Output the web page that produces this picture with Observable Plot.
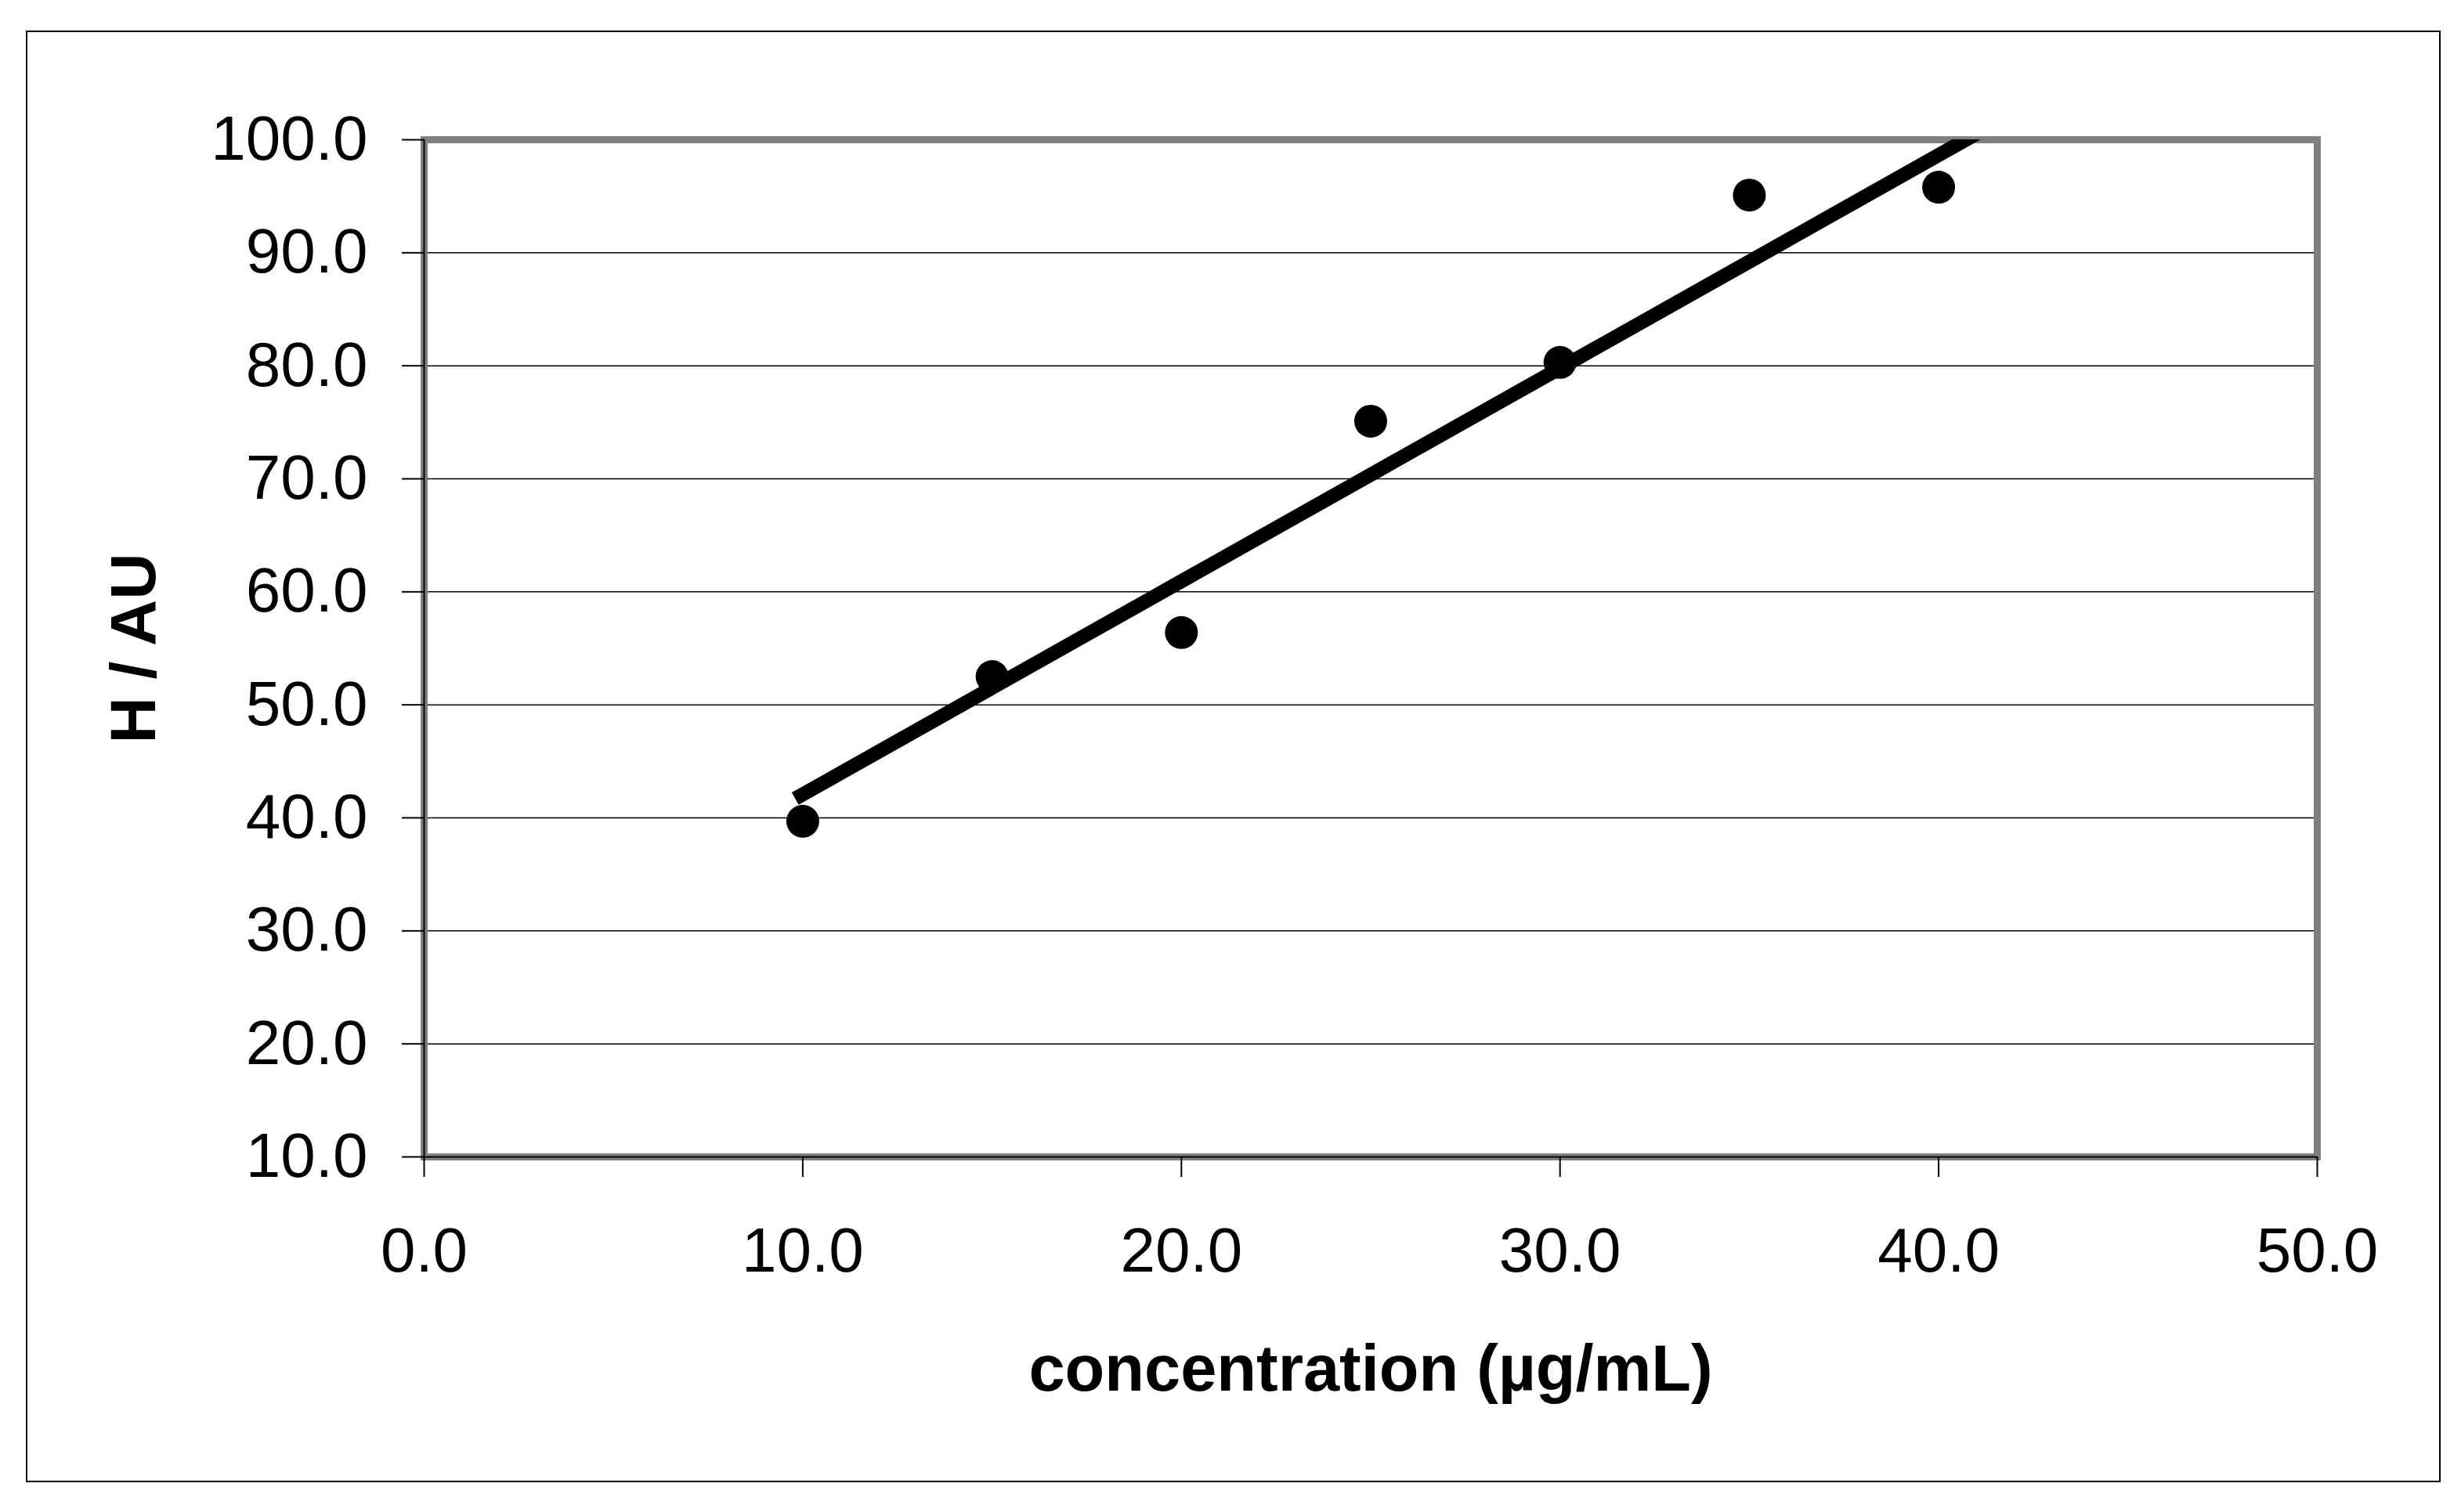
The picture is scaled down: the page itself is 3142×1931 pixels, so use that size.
<!DOCTYPE html>
<html>
<head>
<meta charset="utf-8">
<script src="https://cdn.jsdelivr.net/npm/d3@7"></script>
<script src="https://cdn.jsdelivr.net/npm/@observablehq/plot@0.6"></script>
<style>
  html, body { margin: 0; padding: 0; background: #fff; }
  body { position: relative; width: 3142px; height: 1931px; overflow: hidden; font-family: "Liberation Sans", Arial, sans-serif; }
  #border { position: absolute; left: 33px; top: 39px; width: 3083px; height: 1854px; border: 2px solid #000; box-sizing: border-box; }
  #chart { position: absolute; left: 0; top: 0; }
</style>
</head>
<body>
<div id="border"></div>
<div id="chart"></div>
<script>
// Data
const concentration = [10, 15, 20, 25, 30, 35, 40];
const response = [39.7, 52.5, 56.4, 75.1, 80.3, 95.1, 95.8];
// Trend line end points (as drawn in the reference; clipped at the top of the plot)
const trendX = [9.8, 41.3];
const trendY = [41.7, 101.1];
const xTicks = [0, 10, 20, 30, 40, 50];
const yTicks = [10, 20, 30, 40, 50, 60, 70, 80, 90, 100];
const gridY = [20, 30, 40, 50, 60, 70, 80, 90];
const xLabel = "concentration (µg/mL)";
const yLabel = "H / AU";

const points = concentration.map((c, i) => ({c, h: response[i]}));
const trend = trendX.map((x, i) => ({x, y: trendY[i]}));
const fmt = d3.format(".1f");
const FONT = "'Liberation Sans', Arial, sans-serif";

const plot = Plot.plot({
  width: 3142,
  height: 1931,
  marginLeft: 541,
  marginRight: 184,
  marginTop: 178,
  marginBottom: 454,
  style: {fontFamily: FONT, fontSize: "80px", color: "#000", background: "transparent", overflow: "visible"},
  x: {domain: [0, 50]},
  y: {domain: [10, 100]},
  marks: [
    Plot.ruleY(gridY, {stroke: "#000", strokeWidth: 1.5}),
    Plot.frame({stroke: "#808080", strokeWidth: 9}),
    Plot.ruleX([0], {stroke: "#000", strokeWidth: 2}),
    Plot.ruleY([10], {stroke: "#000", strokeWidth: 2}),
    Plot.line(trend, {x: "x", y: "y", stroke: "#000", strokeWidth: 18, strokeLinecap: "butt", clip: true}),
    Plot.dot(points, {x: "c", y: "h", r: 21, fill: "#000", stroke: "none"}),
    Plot.axisY({ticks: yTicks, tickFormat: fmt, tickSize: 28, tickPadding: 44, strokeWidth: 2, stroke: "#000", fontSize: 80, label: null}),
    Plot.axisX({ticks: xTicks, tickFormat: fmt, tickSize: 26, tickPadding: 64, strokeWidth: 2, stroke: "#000", fontSize: 80, label: null}),
    Plot.text([yLabel], {frameAnchor: "left", dx: -370, rotate: -90, textAnchor: "middle", fontWeight: "bold", fontSize: 82, fill: "#000", lineAnchor: "middle"}),
    Plot.text([xLabel], {frameAnchor: "bottom", dy: 272, textAnchor: "middle", fontWeight: "bold", fontSize: 83, fill: "#000", lineAnchor: "middle"})
  ]
});
document.getElementById("chart").appendChild(plot);
</script>
</body>
</html>
